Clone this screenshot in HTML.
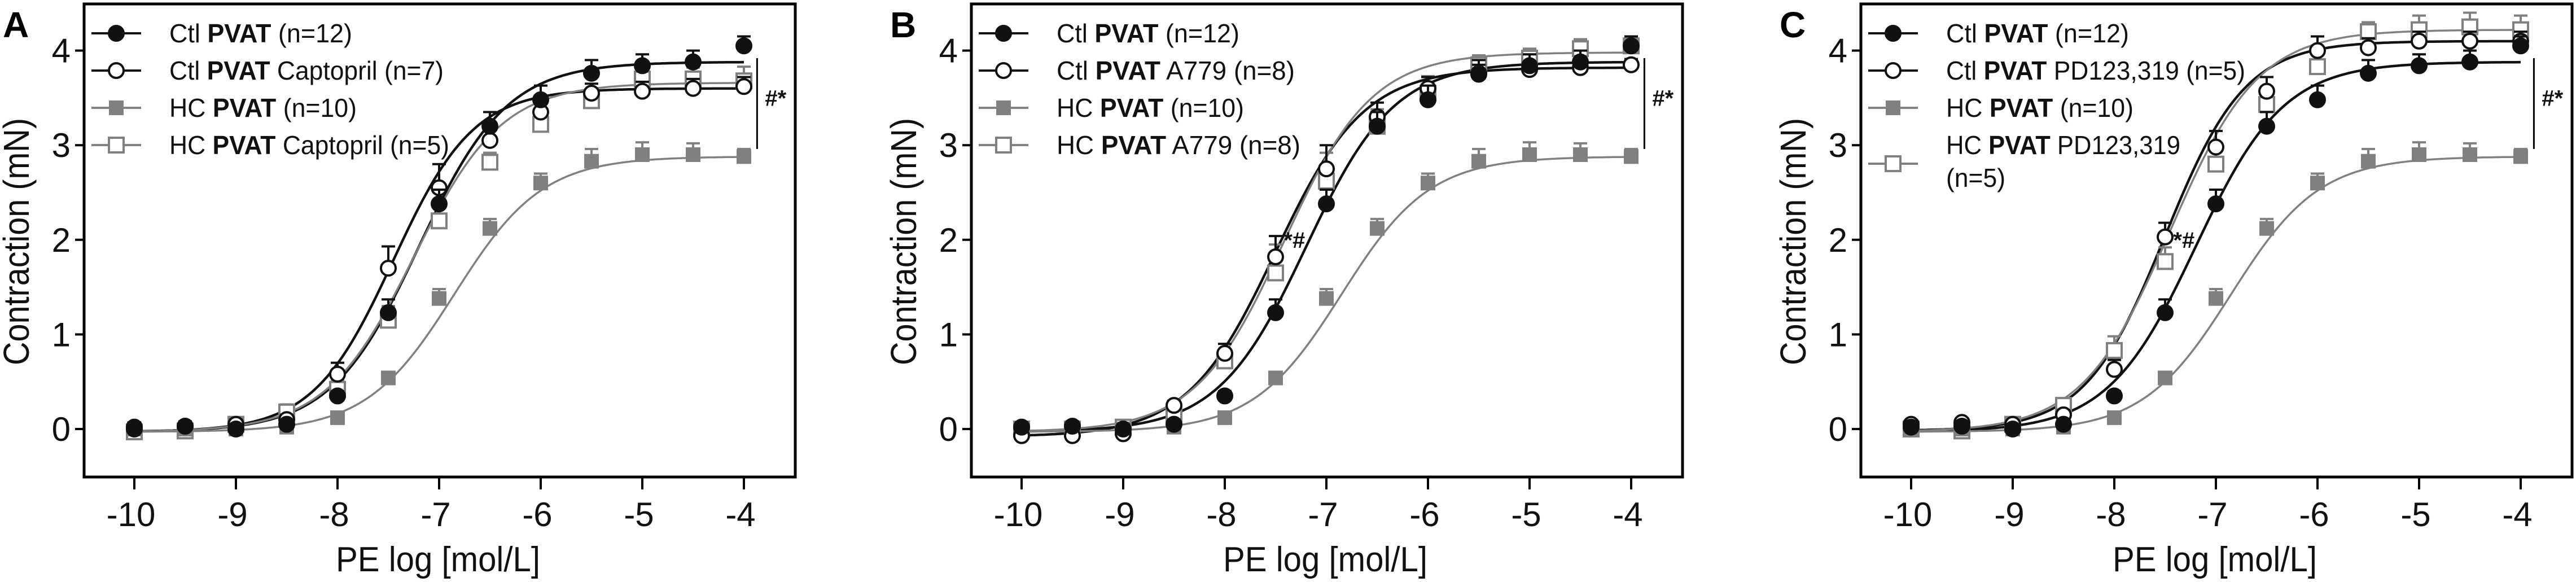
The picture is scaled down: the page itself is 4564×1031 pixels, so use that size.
<!DOCTYPE html>
<html><head><meta charset="utf-8"><style>
html,body{margin:0;padding:0;background:#fff}
svg{display:block}
text{font-family:"Liberation Sans",sans-serif}
</style></head><body>
<svg id="fig" width="4564" height="1031" viewBox="0 0 4564 1031" xmlns="http://www.w3.org/2000/svg"></svg>
<script>
const xDoses=[-10,-9.5,-9,-8.5,-8,-7.5,-7,-6.5,-6,-5.5,-5,-4.5,-4];
const yTicks=[0,1,2,3,4];
const xTicks=[-10,-9,-8,-7,-6,-5,-4];
// shared series
const ctlPvat=[0.02,0.03,0,0.05,0.35,1.23,2.38,3.2,3.48,3.76,3.84,3.88,4.05];
const ctlPvatErr=[0.05,0.05,0.05,0.05,0.05,0.14,0.15,0.15,0.15,0.14,0.12,0.12,0.1];
const hcPvat=[0,0,0,0.02,0.12,0.54,1.38,2.12,2.6,2.83,2.9,2.9,2.88];
const hcPvatErr=[0.03,0.03,0.03,0.03,0.05,0.06,0.1,0.1,0.1,0.13,0.13,0.12,0.08];
// panel A
const ctlCapto=[0,0.03,0.05,0.1,0.58,1.7,2.55,3.05,3.35,3.55,3.57,3.6,3.62];
const ctlCaptoErr=[0.05,0.05,0.05,0.05,0.12,0.23,0.25,0.15,0.12,0.1,0.1,0.1,0.1];
const hcCapto=[-0.03,-0.02,0.05,0.18,0.42,1.15,2.2,2.82,3.22,3.47,3.7,3.7,3.68];
const hcCaptoErr=[0.05,0.05,0.05,0.08,0.1,0.15,0.15,0.1,0.1,0.12,0.12,0.12,0.15];
// panel B
const ctlA779=[-0.07,-0.07,-0.05,0.25,0.8,1.82,2.75,3.3,3.6,3.75,3.8,3.82,3.85];
const ctlA779Err=[0.04,0.04,0.04,0.05,0.1,0.22,0.25,0.15,0.12,0.1,0.08,0.08,0.06];
const hcA779=[0,0,0.02,0.15,0.72,1.65,2.62,3.2,3.55,3.85,3.92,4.02,4.05];
const hcA779Err=[0.04,0.04,0.04,0.05,0.1,0.3,0.3,0.18,0.18,0.1,0.1,0.1,0.1];
// panel C
const ctlPD=[0.05,0.07,0.05,0.15,0.63,2.03,2.98,3.57,4.0,4.03,4.1,4.1,4.1];
const ctlPDErr=[0.04,0.04,0.04,0.05,0.1,0.15,0.17,0.15,0.15,0.1,0.1,0.1,0.1];
const hcPD=[0,-0.02,0.05,0.25,0.83,1.77,2.8,3.43,3.83,4.2,4.22,4.25,4.22];
const hcPDErr=[0.04,0.04,0.04,0.06,0.15,0.15,0.15,0.15,0.15,0.1,0.15,0.15,0.15];
// fit params [bottom, top, logEC50, hill]
const fitCtlPvat=[-0.03,3.88,-7.2,1.0];
const fitHcPvat=[-0.03,2.88,-6.85,1.0];
const fitCtlCapto=[-0.03,3.6,-7.45,1.1];
const fitHcCapto=[-0.03,3.66,-7.25,1.0];
const fitCtlA779=[-0.08,3.82,-7.5,1.0];
const fitHcA779=[-0.03,3.98,-7.42,1.0];
const fitCtlPD=[-0.02,4.1,-7.5,1.1];
const fitHcPD=[-0.03,4.22,-7.45,1.0];

const NS="http://www.w3.org/2000/svg";
const svg=document.getElementById('fig');
function mk(tag,attrs,parent){const e=document.createElementNS(NS,tag);for(const k in attrs)e.setAttribute(k,attrs[k]);(parent||svg).appendChild(e);return e;}
const BLACK="#111", GRAY="#808080";
const Y0=760, YU=167.6, TOP=7, BOT=845;

function panel(cfg){
  const L=cfg.left, W=1260;
  const g=mk('g',{});
  
  
  const sx=v=>L+89+(v+10)*180;
  const sy=v=>Y0-v*YU;
  const letter=mk('text',{x:L-144,y:66,'font-size':64,'font-weight':'bold',fill:'#000'},g);
  letter.textContent=cfg.letter;
  
  
  const box=mk('rect',{x:L,y:TOP,width:W,height:BOT-TOP,fill:'none',stroke:'#000','stroke-width':5},g);
  
  
  yTicks.forEach(t=>{
    mk('line',{x1:L-16,x2:L,y1:sy(t),y2:sy(t),stroke:'#000','stroke-width':4},g);
    const tx=mk('text',{x:L-24,y:sy(t)+21,'font-size':60,'text-anchor':'end',fill:'#111'},g);
    tx.textContent=t;
    
    
  });
  xTicks.forEach(t=>{
    mk('line',{x1:sx(t),x2:sx(t),y1:BOT,y2:BOT+22,stroke:'#000','stroke-width':4},g);
    const tx=mk('text',{x:sx(t)-6,y:932,'font-size':60,'text-anchor':'middle',fill:'#111'},g);
    tx.textContent=t;
    
    
  });
  const yt=mk('text',{x:0,y:0,'font-size':64,'text-anchor':'middle',fill:'#111',transform:`translate(${L-98},428) rotate(-90)`,textLength:438,lengthAdjust:'spacingAndGlyphs'},g);
  yt.textContent='Contraction (mN)';
  
  
  const xt=mk('text',{x:L+627,y:1012,'font-size':62,'text-anchor':'middle',fill:'#111',textLength:362,lengthAdjust:'spacingAndGlyphs'},g);
  xt.textContent='PE log [mol/L]';
  
  
  // series: curves first
  cfg.series.forEach(s=>{
    const [b,tp,ec,h]=s.fit;let d='';
    for(let i=0;i<=240;i++){const x=-10+6*i/240;const y=b+(tp-b)/(1+Math.pow(10,(ec-x)*h));d+=(i?'L':'M')+sx(x).toFixed(1)+','+sy(y).toFixed(1);}
    const p=mk('path',{d:d,fill:'none',stroke:s.color,'stroke-width':s.color===BLACK?4.5:3.5},g);
    
    
  });
  cfg.series.slice().reverse().forEach(s=>{
    s.vals.forEach((v,i)=>{
      const x=sx(xDoses[i]),y=sy(v),ey=sy(v+s.err[i]);
      const eb=mk('path',{d:`M${x},${y}L${x},${ey}M${x-12},${ey}L${x+12},${ey}`,stroke:s.color,'stroke-width':4,fill:'none'},g);
      
      
      const m=markerAt(s,x,y,g);
      
      
    });
  });
  // legend
  cfg.legend.forEach((en,k)=>{
    const s=cfg.series[k];
    const lg=mk('g',{},g);
    
    
    const ly=en.ly;
    mk('line',{x1:L+13,x2:L+101,y1:ly,y2:ly,stroke:s.color,'stroke-width':4},lg);
    markerAt(s,L+57,ly,lg);
    en.lines.forEach((ln,j)=>{
      const t=mk('text',{x:L+151,y:en.ty+j*58,'font-size':46,fill:'#111',textLength:ln.w,lengthAdjust:'spacingAndGlyphs'},lg);
      ln.parts.forEach(pt=>{const ts=mk('tspan',pt[1]?{'font-weight':'bold'}:{},t);ts.textContent=pt[0];});
    });
  });
  // significance bracket
  const bx=sx(-3.87);
  const br=mk('line',{x1:bx,x2:bx,y1:sy(3.92),y2:sy(2.96),stroke:'#000','stroke-width':3},g);
  
  
  const st=mk('text',{x:bx+14,y:sy(3.5)+14,'font-size':40,'font-weight':'bold',fill:'#111'},g);
  st.textContent='#*';
  
  
  if(cfg.mid){
    const mt=mk('text',{x:sx(-7.42),y:sy(2.0)+14,'font-size':40,'font-weight':'bold',fill:'#111'},g);
    mt.textContent=cfg.mid;
    
    
  }
}
function markerAt(s,x,y,g){
  if(s.shape==='circle')return mk('circle',{cx:x,cy:y,r:13,fill:s.filled?s.color:'#fff',stroke:s.color,'stroke-width':4},g);
  return mk('rect',{x:x-13,y:y-13,width:26,height:26,fill:s.filled?s.color:'#fff',stroke:s.color,'stroke-width':s.filled?0:4},g);
}
const S_ctl={vals:ctlPvat,err:ctlPvatErr,fit:fitCtlPvat,color:BLACK,shape:'circle',filled:true};
const S_hc={vals:hcPvat,err:hcPvatErr,fit:fitHcPvat,color:GRAY,shape:'square',filled:true};
function leg(n1,l2,w2,n4,w4,extra){
  return [
    {ly:59,ty:75,lines:[{w:324,parts:[['Ctl ',0],['PVAT',1],[' (n=12)',0]]}]},
    {ly:125,ty:141,lines:[{w:w2,parts:[['Ctl ',0],['PVAT',1],[l2,0]]}]},
    {ly:191,ty:207,lines:[{w:332,parts:[['HC ',0],['PVAT',1],[' (n=10)',0]]}]},
    extra||{ly:257,ty:273,lines:[{w:w4,parts:[['HC ',0],['PVAT',1],[n4,0]]}]}
  ];
}
panel({letter:'A',left:149,series:[S_ctl,
  {vals:ctlCapto,err:ctlCaptoErr,fit:fitCtlCapto,color:BLACK,shape:'circle',filled:false},S_hc,
  {vals:hcCapto,err:hcCaptoErr,fit:fitHcCapto,color:GRAY,shape:'square',filled:false}],
  legend:leg(0,' Captopril (n=7)',486,' Captopril (n=5)',496)});
panel({letter:'B',left:1721,mid:'*#',series:[S_ctl,
  {vals:ctlA779,err:ctlA779Err,fit:fitCtlA779,color:BLACK,shape:'circle',filled:false},S_hc,
  {vals:hcA779,err:hcA779Err,fit:fitHcA779,color:GRAY,shape:'square',filled:false}],
  legend:leg(0,' A779 (n=8)',422,' A779 (n=8)',432)});
panel({letter:'C',left:3297,mid:'*#',series:[S_ctl,
  {vals:ctlPD,err:ctlPDErr,fit:fitCtlPD,color:BLACK,shape:'circle',filled:false},S_hc,
  {vals:hcPD,err:hcPDErr,fit:fitHcPD,color:GRAY,shape:'square',filled:false}],
  legend:leg(0,' PD123,319 (n=5)',530,'',0,{ly:290,ty:273,lines:[{w:415,parts:[['HC ',0],['PVAT',1],[' PD123,319',0]]},{w:105,parts:[['(n=5)',0]]}]})});
</script>
</body></html>
